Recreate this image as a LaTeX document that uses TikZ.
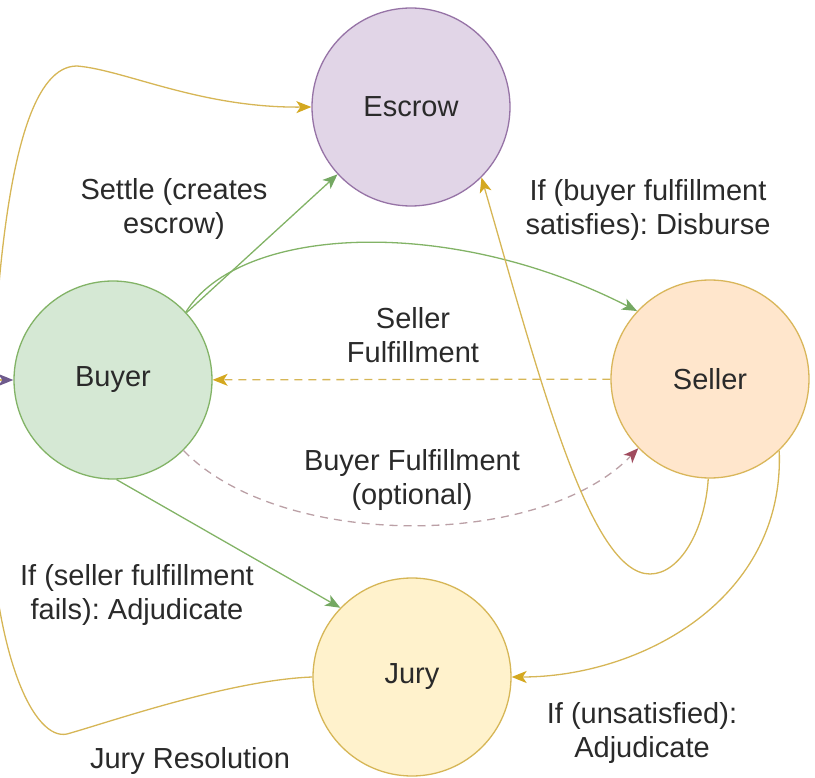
\documentclass[tikz,border=0pt]{standalone}
\usepackage{fontspec}
\setmainfont{Liberation Sans}
\usetikzlibrary{arrows.meta}
\definecolor{escrowfill}{HTML}{E1D5E7}
\definecolor{escrowline}{HTML}{9673A6}
\definecolor{buyerfill}{HTML}{D5E8D4}
\definecolor{buyerline}{HTML}{82B366}
\definecolor{sellerfill}{HTML}{FFE6CC}
\definecolor{sellerline}{HTML}{D9B65A}
\definecolor{juryfill}{HTML}{FFF2CC}
\definecolor{juryline}{HTML}{D6B656}
\definecolor{greenedge}{HTML}{82B366}
\definecolor{greentip}{HTML}{74A862}
\definecolor{yellowedge}{HTML}{D6B656}
\definecolor{yellowtip}{HTML}{D4A820}
\definecolor{pinkedge}{HTML}{BBA0A6}
\definecolor{pinktip}{HTML}{A04B5E}
\definecolor{purpletip}{HTML}{6E5A8C}
\definecolor{txt}{HTML}{2A2A2A}
\begin{document}
\frenchspacing
\begin{tikzpicture}[x=1pt,y=-1pt,
  state/.style={circle, draw, line width=1.3pt, minimum size=198pt, inner sep=0pt,
    font=\fontsize{29}{34}\selectfont, text=txt},
  lbl/.style={align=center, font=\fontsize{29}{34}\selectfont, text=txt, inner sep=0pt},
  conn/.style={line width=1.3pt},
  greenconn/.style={conn, draw=greenedge, -{Stealth[length=15pt,width=12pt,inset=4pt,color=greentip]}},
  yellowconn/.style={conn, draw=yellowedge, -{Stealth[length=15pt,width=12pt,inset=4pt,color=yellowtip]}},
  pinkconn/.style={conn, draw=pinkedge, dash pattern=on 8pt off 6pt, -{Stealth[length=15pt,width=12pt,inset=4pt,color=pinktip]}},
  purpleconn/.style={conn, draw=juryline, -{Stealth[length=15pt,width=12pt,inset=4pt,color=purpletip]}}
]
\useasboundingbox (0,0) rectangle (815,778);
\clip (0,0) rectangle (815,778);

% nodes
\node[state, fill=escrowfill, draw=escrowline] (escrow) at (411,107) {Escrow};
\node[state, fill=buyerfill, draw=buyerline] (buyer) at (113,380) {Buyer};
\node[state, fill=sellerfill, draw=sellerline] (seller) at (710,379) {Seller};
\node[state, fill=juryfill, draw=juryline] (jury) at (412,677) {Jury};

% labels
\node[lbl] (lsettle) at (174,209) {Settle (creates\\escrow)};
\node[lbl] (ldisburse) at (648,210) {If (buyer fulfillment\\satisfies): Disburse};
\node[lbl] (lsellerf) at (413,335) {Seller\\Fulfillment};
\node[lbl] (lbuyerf) at (412,480) {Buyer Fulfillment\\(optional)};
\node[lbl] (lfails) at (137,595) {If (seller fulfillment\\fails): Adjudicate};
\node[lbl] (ljury) at (190,761) {Jury Resolution};
\node[lbl] (lunsat) at (642,733) {If (unsatisfied):\\Adjudicate};

% connectors
\draw[greenconn] (buyer) -- (escrow);
\draw[greenconn] (buyer.43) .. controls (240,225) and (450,215) .. (seller.137);
\draw[yellowconn, dash pattern=on 8pt off 6pt] (seller) -- (buyer);
\draw[pinkconn] (buyer.-45) .. controls (280,550) and (540,550) .. (seller.-136);
\draw[greenconn] (buyer.-88) -- (jury.136);
\draw[yellowconn] (seller.-91) .. controls (705,530) and (680,574) .. (650,574)
  .. controls (590,574) and (540,380) .. (escrow.-45);
\draw[yellowconn] (seller.-46) .. controls (785,600) and (640,677) .. (jury.east);
\draw[yellowconn] (jury.west) .. controls (230,680) and (110,722) .. (67,734)
  .. controls (35,741) and (-8,660) .. (-12,480)
  .. controls (-15,380) and (-5,330) .. (0,273)
  .. controls (12,150) and (35,66) .. (77,66)
  .. controls (125,70) and (200,108) .. (escrow.west);
\coordinate (offleft) at (-40,380);
\draw[purpleconn] (offleft) -- (buyer.west);
\end{tikzpicture}
\end{document}
